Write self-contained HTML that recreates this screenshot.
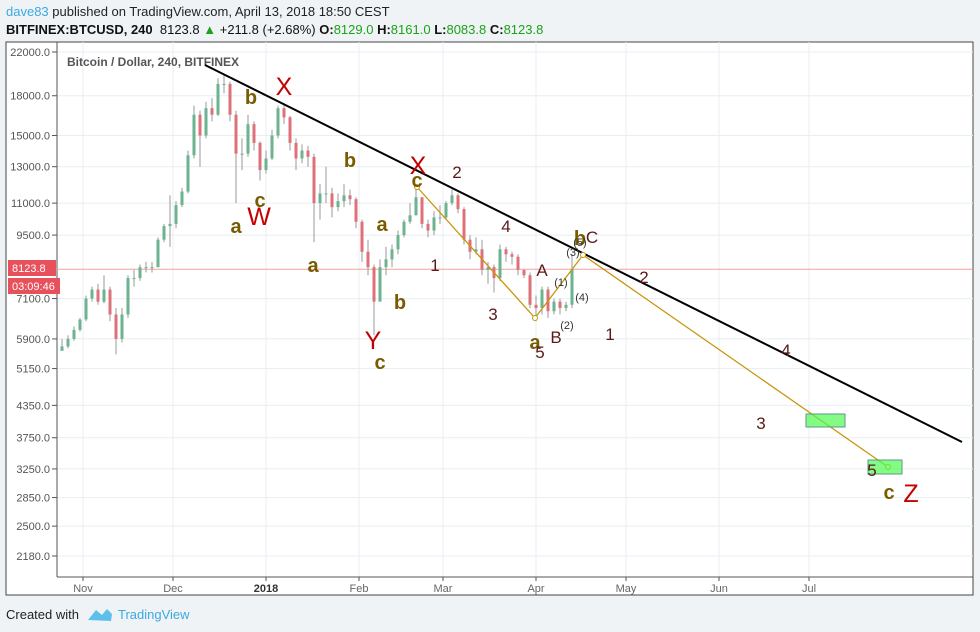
<!DOCTYPE html>
<html><head><meta charset="utf-8">
<style>
body{margin:0;width:980px;height:632px;background:#f0f3f6;font-family:"Liberation Sans",sans-serif;overflow:hidden;position:relative}
.h1{position:absolute;left:6px;top:4px;font-size:13px;color:#222}
.h2{position:absolute;left:6px;top:22px;font-size:13px;color:#111}
.g{color:#19a319}
svg{position:absolute;left:0;top:0}
</style></head><body>
<div class="h1"><span style="color:#3ba9e0">dave83</span> published on TradingView.com, April 13, 2018 18:50 CEST</div>
<div class="h2"><b>BITFINEX:BTCUSD, 240</b>&nbsp; 8123.8 <span style="color:#19a319">▲</span> +211.8 (+2.68%) <b>O:</b><span class="g">8129.0</span> <b>H:</b><span class="g">8161.0</span> <b>L:</b><span class="g">8083.8</span> <b>C:</b><span class="g">8123.8</span></div>
<svg id="c" width="980" height="632"></svg>
<script>
const days=[-7,-5,-3,-1,1,3,5,7,9,11,13,15,17,19,21,23,25,27,29,31,33,35,37,39,41,43,45,47,49,51,53,55,57,59,61,63,65,67,69,71,73,75,77,79,81,83,85,87,89,91,93,95,97,99,101,103,105,107,109,111,113,115,117,119,121,123,125,127,129,131,133,135,137,139,141,143,145,147,149,151,153,155,157,159,161,163];
const closes=[5700,5900,6150,6450,7100,7400,7000,7400,6600,5900,6600,7800,7800,8200,8200,8200,9300,9900,10000,10900,11600,13700,16500,15000,17000,16500,19000,19000,16500,13800,13800,15800,14500,12800,13500,15000,17000,16300,14500,13500,14000,13600,11000,11500,11500,10800,11100,11400,11200,10100,8800,8200,7000,8200,8500,8900,9500,10100,10400,11300,10000,9700,10300,10300,11000,11400,10700,9300,8800,8900,8100,8200,7800,8900,8700,8600,8100,7900,6900,6800,7400,6700,7000,6800,6900,8124];
const highs=[5900,6000,6250,6500,7200,7500,7600,7900,7500,6800,6800,7900,8100,8300,8400,8400,9400,10000,11400,11100,11800,14000,17200,16800,17500,17800,19500,19800,19200,16800,14800,16500,16000,14600,14000,15400,17200,17400,16400,14800,14400,14300,13800,12000,13000,11800,11500,12000,11700,11300,10200,9300,8300,8500,9000,9100,9700,10200,11000,11800,11300,10200,10600,10900,11100,11700,11500,10800,9500,9400,9300,8400,8300,9100,9000,8800,8700,8100,8000,7200,7500,7500,7100,7100,7000,8700];
const lows=[5600,5650,5850,6100,6400,7000,6900,6950,6400,5500,5800,6500,7500,7700,8000,8000,8200,9200,9000,9800,10800,11500,13500,13000,14800,16000,16400,18200,16000,11000,12800,13600,14000,12200,12600,13400,14800,15800,14000,12800,13200,13000,9200,10200,11000,10300,10600,10800,10900,9800,8400,7900,6000,7200,7900,8200,8700,9400,10000,10500,9800,9400,9500,10000,10200,10900,10500,9100,8500,8700,7900,7600,7300,7700,8400,8300,7900,7800,6800,6400,6600,6500,6600,6600,6700,6800];
const yTicks=[22000,18000,15000,13000,11000,9500,7100,5900,5150,4350,3750,3250,2850,2500,2180];
const months=["Nov","Dec","2018","Feb","Mar","Apr","May","Jun","Jul"];
const monthDays=[0,30,61,92,120,151,181,212,242];

const NS="http://www.w3.org/2000/svg",svg=document.getElementById('c');
const L=57,R=973,T=42,B=577;
const y=p=>52+(Math.log10(22000)-Math.log10(p))*502;
const x=d=>83+d*3;
function el(t,a,txt){const e=document.createElementNS(NS,t);for(const k in a)e.setAttribute(k,a[k]);if(txt!==undefined)e.textContent=txt;svg.appendChild(e);return e;}

let e=el('rect',{x:6,y:T,width:R-6,height:595-T,fill:'#fff',stroke:'#444','stroke-width':1});

yTicks.forEach(v=>{
  let g=el('line',{x1:L,x2:R,y1:y(v),y2:y(v),stroke:'#e8eef3'});
  
  let tk=el('line',{x1:L-5,x2:L,y1:y(v),y2:y(v),stroke:'#555'});
  
  let t=el('text',{x:L-7,y:y(v)+4,'font-size':11,fill:'#555','text-anchor':'end'},v.toFixed(1));
  
});
months.forEach((m,i)=>{
  const xx=x(monthDays[i]);
  let g=el('line',{x1:xx,x2:xx,y1:T,y2:B,stroke:'#e8eef3'});
  
  let tk=el('line',{x1:xx,x2:xx,y1:B,y2:B+4,stroke:'#555'});
  
  let t=el('text',{x:xx,y:B+15,'font-size':11,fill:m==='2018'?'#333':'#666','font-weight':m==='2018'?'bold':'normal','text-anchor':'middle'},m);
  
});
e=el('line',{x1:L,x2:L,y1:T,y2:B,stroke:'#555'});
e=el('line',{x1:L,x2:R,y1:B,y2:B,stroke:'#555'});

e=el('line',{x1:L,x2:R,y1:y(8123.8),y2:y(8123.8),stroke:'#f5a0a0','stroke-width':1});


for(let i=0;i<days.length;i++){
  const o=i?closes[i-1]:closes[0]*0.98,c=closes[i],cx=x(days[i]);
  const up=c>=o,col=up?'#6cb38f':'#de7078';
  let w=el('line',{x1:cx,x2:cx,y1:y(highs[i]),y2:y(lows[i]),stroke:'#999','stroke-width':1});
  
  const t1=y(Math.max(o,c)),t2=y(Math.min(o,c));
  let b=el('rect',{x:cx-1.5,y:t1,width:3,height:Math.max(1,t2-t1),fill:col});
  
}

e=el('text',{x:67,y:66,'font-size':12,fill:'#555','font-weight':'bold'},'Bitcoin / Dollar, 240, BITFINEX');


e=el('line',{x1:205,y1:65,x2:962,y2:442,stroke:'#000','stroke-width':2});

e=el('polyline',{points:'417,187 535,318 583,255 888,467',fill:'none',stroke:'#c8960c','stroke-width':1.3});

[[417,187],[535,318],[583,255],[888,467]].forEach(p=>{let c=el('circle',{cx:p[0],cy:p[1],r:2.5,fill:'#fff',stroke:'#c8960c'});});
e=el('rect',{x:806,y:414,width:39,height:13,fill:'rgba(80,250,80,0.7)',stroke:'#5a9a8a'});

e=el('rect',{x:868,y:460,width:34,height:14,fill:'rgba(80,250,80,0.7)',stroke:'#5a9a8a'});


const olive=[["b",251,97],["a",236,226],["c",260,200],["b",350,160],["a",313,265],["a",382,224],["b",400,302],["c",380,362],["c",417,180],["a",535,342],["b",580,238],["c",889,492]];
olive.forEach(l=>{let t=el('text',{x:l[1],y:l[2]+7,'font-size':20,'font-weight':'bold',fill:'#7a5c00','text-anchor':'middle'},l[0]);});
const reds=[["X",284,86],["W",259,216],["X",418,165],["Y",373,340],["Z",911,493]];
reds.forEach(l=>{let t=el('text',{x:l[1],y:l[2]+9,'font-size':25,fill:'#c40000','text-anchor':'middle'},l[0]);});
const marks=[["2",457,172],["4",506,226],["1",435,265],["3",493,314],["5",540,352],["A",542,270],["B",556,337],["C",592,237],["2",644,277],["1",610,334],["4",786,350],["3",761,423],["5",872,470]];
marks.forEach(l=>{let t=el('text',{x:l[1],y:l[2]+6,'font-size':17,fill:'#5a1a1a','text-anchor':'middle'},l[0]);});
const small=[["(1)",561,282],["(2)",567,325],["(3)",573,252],["(4)",582,297],["(5)",580,242]];
small.forEach(l=>{let t=el('text',{x:l[1],y:l[2]+4,'font-size':11,fill:'#333','text-anchor':'middle'},l[0]);});

e=el('rect',{x:8,y:260,width:48,height:16,fill:'#e8505b'});
e=el('text',{x:12,y:272,'font-size':11,fill:'#fff'},'8123.8');
e=el('rect',{x:8,y:278,width:52,height:16,fill:'#e8505b'});
e=el('text',{x:12,y:290,'font-size':11,fill:'#fff'},'03:09:46');

e=el('text',{x:6,y:619,'font-size':13,fill:'#222'},'Created with');
e=el('path',{d:'M88 620 L96 610 L102 615 L107 609 L112 614 L111 621 Z',fill:'#5bc0eb'});
e=el('text',{x:118,y:619,'font-size':13,fill:'#3ba9e0'},'TradingView');
</script>
</body></html>
